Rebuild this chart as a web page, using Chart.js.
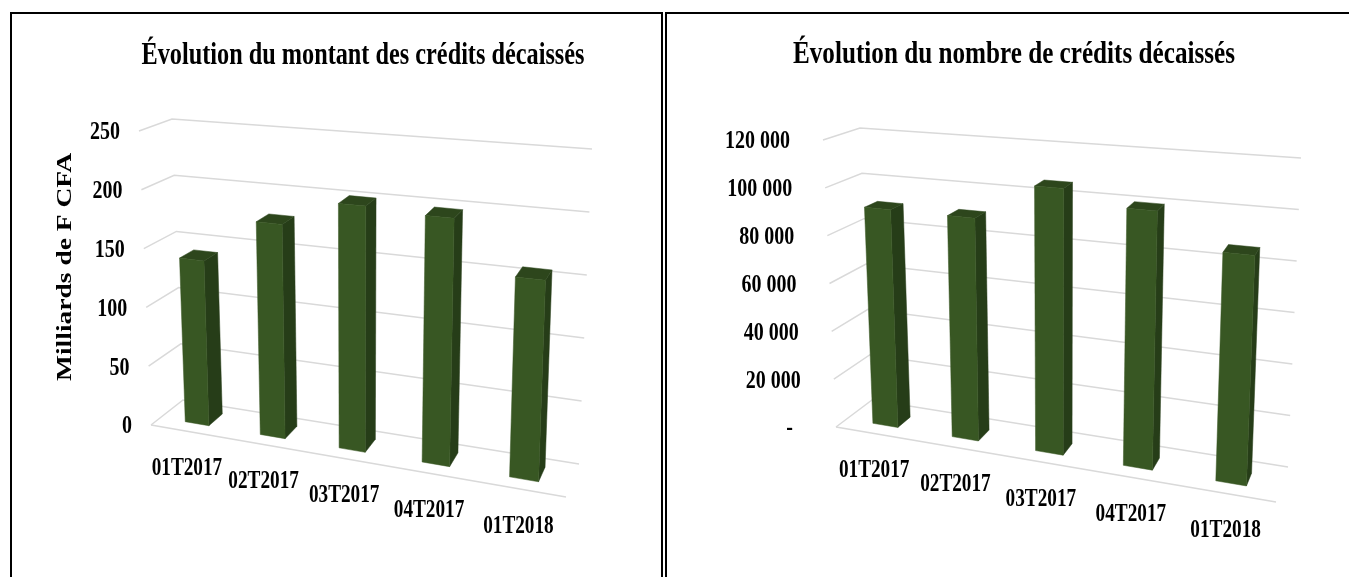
<!DOCTYPE html>
<html lang="fr">
<head>
<meta charset="utf-8">
<title>Crédits décaissés</title>
<script src="https://cdn.jsdelivr.net/npm/chart.js@4"></script>
<style>
    html, body { margin: 0; padding: 0; background: #fff; overflow: hidden; }
    .panel { position: absolute; top: 12px; height: 600px; box-sizing: border-box; border: 2.5px solid #000; }
    canvas { position: absolute; top: 0; }
</style>
</head>
<body>
<div class="panel" style="left:10px;width:653px"></div>
<div class="panel" style="left:665px;width:720px"></div>
<canvas id="chart-montant" width="666" height="577" style="left:30px"></canvas>
<canvas id="chart-nombre" width="670" height="577" style="left:679px"></canvas>
<script>
// Données
const trimestres = ['01T2017', '02T2017', '03T2017', '04T2017', '01T2018'];
const montants = [140, 178, 200, 197, 156];
const nombres = [91000, 90800, 106000, 100300, 86800];
const ticksMontant = ['0', '50', '100', '150', '200', '250'];
const ticksNombre = ['-', '20 000', '40 000', '60 000', '80 000', '100 000', '120 000'];

const SERIF = '"Liberation Serif", serif';
const VERT = { face: '#385723', cote: '#263d18', dessus: '#2d461c' };

const lerp = (a, b, t) => [a[0] + (b[0] - a[0]) * t, a[1] + (b[1] - a[1]) * t];

// Passe d'un point (u, v, w) de la boite au point de la page
const projeter = (box, u, v, w) => {
    const s = u / (u + box.k * (1 - u));
    const fond = lerp(lerp(box.bbl, box.bbr, s), lerp(box.btl, box.btr, s), v);
    const avant = lerp(lerp(box.fbl, box.fbr, s), lerp(box.ftl, box.ftr, s), v);
    return lerp(fond, avant, w);
};

const polygone = (ctx, points, couleur) => {
    ctx.beginPath();
    points.forEach((p, i) => i ? ctx.lineTo(p[0], p[1]) : ctx.moveTo(p[0], p[1]));
    ctx.closePath();
    ctx.fillStyle = couleur;
    ctx.strokeStyle = couleur;
    ctx.lineWidth = 0.5;
    ctx.fill();
    ctx.stroke();
};

const ligne = (ctx, points) => {
    ctx.beginPath();
    points.forEach((p, i) => i ? ctx.lineTo(p[0], p[1]) : ctx.moveTo(p[0], p[1]));
    ctx.strokeStyle = '#d9d9d9';
    ctx.lineWidth = 1.5;
    ctx.stroke();
};

// Le texte de l'image est ecrase horizontalement : on ecrit avec une echelle en x
const texte = (ctx, str, x, y, taille, etirement) => {
    ctx.save();
    ctx.translate(x, y);
    ctx.scale(etirement, 1);
    ctx.font = 'bold ' + taille + 'px ' + SERIF;
    ctx.fillText(str, 0, 0);
    ctx.restore();
};

const texteLargeur = (ctx, str, x, y, taille, largeur) => {
    ctx.font = 'bold ' + taille + 'px ' + SERIF;
    texte(ctx, str, x, y, taille, largeur / ctx.measureText(str).width);
};

// Dessine grille, etiquettes et barres en perspective a partir des echelles du graphique
const perspective = {
    id: 'perspective',
    beforeDatasetsDraw(chart, args, opts) {
        const ctx = chart.ctx;
        const box = opts.box;
        const area = chart.chartArea;
        const yScale = chart.scales.y;
        const xScale = chart.scales.x;
        const toU = x => (x - area.left) / area.width;
        const toV = y => (area.bottom - y) / area.height;

        ctx.save();
        ctx.translate(-opts.left, 0);

        // grille
        yScale.ticks.forEach(tick => {
            const v = toV(yScale.getPixelForValue(tick.value));
            ligne(ctx, [projeter(box, 0, v, 1), projeter(box, 0, v, 0), projeter(box, 1, v, 0)]);
        });
        ligne(ctx, [projeter(box, 0, 0, 1), projeter(box, 1, 0, 1)]);

        // barres
        const { wFace, wFond } = box;
        chart.getDatasetMeta(0).data.forEach(bar => {
            const u0 = toU(bar.x - bar.width / 2);
            const u1 = toU(bar.x + bar.width / 2);
            const v0 = toV(bar.base);
            const v1 = toV(bar.y);
            polygone(ctx, [projeter(box, u1, v0, wFace), projeter(box, u1, v0, wFond), projeter(box, u1, v1, wFond), projeter(box, u1, v1, wFace)], VERT.cote);
            polygone(ctx, [projeter(box, u0, v1, wFace), projeter(box, u1, v1, wFace), projeter(box, u1, v1, wFond), projeter(box, u0, v1, wFond)], VERT.dessus);
            polygone(ctx, [projeter(box, u0, v0, wFace), projeter(box, u1, v0, wFace), projeter(box, u1, v1, wFace), projeter(box, u0, v1, wFace)], VERT.face);
        });

        // etiquettes
        ctx.fillStyle = '#000';
        ctx.textBaseline = 'middle';
        ctx.textAlign = 'right';
        yScale.ticks.forEach(tick => {
            const v = toV(yScale.getPixelForValue(tick.value));
            const p = projeter(box, 0, v, 1);
            const decale = tick.label === '-' ? box.decaleTiret : 0;
            texte(ctx, tick.label, p[0] - box.ecartTicks - decale, p[1] + 2, 25, 0.8);
        });
        ctx.textAlign = 'center';
        chart.data.labels.forEach((label, i) => {
            const p = projeter(box, toU(xScale.getPixelForTick(i)), 0, 1);
            texte(ctx, label, p[0] - 1, p[1] + box.ecartCat, 26, 0.74);
        });

        // titre du graphique
        ctx.textBaseline = 'alphabetic';
        texteLargeur(ctx, chart.options.plugins.title.text, opts.titre.x, opts.titre.y, 32, opts.titre.largeur);

        // titre de l'axe
        if (opts.titreAxe) {
            ctx.save();
            ctx.translate(opts.titreAxe.x, opts.titreAxe.y);
            ctx.rotate(-Math.PI / 2);
            texteLargeur(ctx, opts.titreAxe.texte, 0, 0, 22, opts.titreAxe.largeur);
            ctx.restore();
        }
        ctx.restore();
        return false;
    }
};

const creerGraphique = (id, titre, values, ticks, max, step, left, posTitre, box, titreAxe) => new Chart(document.getElementById(id), {
    type: 'bar',
    data: {
        labels: trimestres,
        datasets: [{ data: values, backgroundColor: VERT.face, barPercentage: 0.32, categoryPercentage: 1 }]
    },
    options: {
        responsive: false,
        animation: false,
        plugins: {
            legend: { display: false },
            tooltip: { enabled: false },
            title: { display: false, text: titre },
            perspective: { box: box, left: left, titre: posTitre, titreAxe: titreAxe }
        },
        scales: {
            x: { grid: { display: false }, border: { display: false }, ticks: { display: false } },
            y: {
                min: 0,
                max: max,
                grid: { display: false },
                border: { display: false },
                ticks: { display: false, stepSize: step, callback: (v, i) => ticks[i] }
            }
        }
    },
    plugins: [perspective]
});

creerGraphique('chart-montant', 'Évolution du montant des crédits décaissés', montants, ticksMontant, 250, 50, 30, { x: 363, y: 64, largeur: 443 }, {
    k: 1.137, wFace: 0.7, wFond: 0.25,
    bbl: [183, 400], bbr: [579, 464], btl: [172, 119], btr: [592, 149],
    fbl: [151, 425], fbr: [566, 497], ftl: [139, 131], ftr: [579, 167],
    ecartTicks: 19, decaleTiret: 0, ecartCat: 37
}, { texte: 'Milliards de F CFA', x: 71, y: 267, largeur: 228 });

creerGraphique('chart-nombre', 'Évolution du nombre de crédits décaissés', nombres, ticksNombre, 120000, 20000, 679, { x: 1014, y: 63, largeur: 442 }, {
    k: 1.137, wFace: 0.7, wFond: 0.33,
    bbl: [872, 400], bbr: [1288, 467], btl: [860, 128], btr: [1301, 158],
    fbl: [836, 427], fbr: [1276, 502], ftl: [823, 140], ftr: [1290, 175],
    ecartTicks: 33, decaleTiret: 10, ecartCat: 37
}, null);
</script>
</body>
</html>
